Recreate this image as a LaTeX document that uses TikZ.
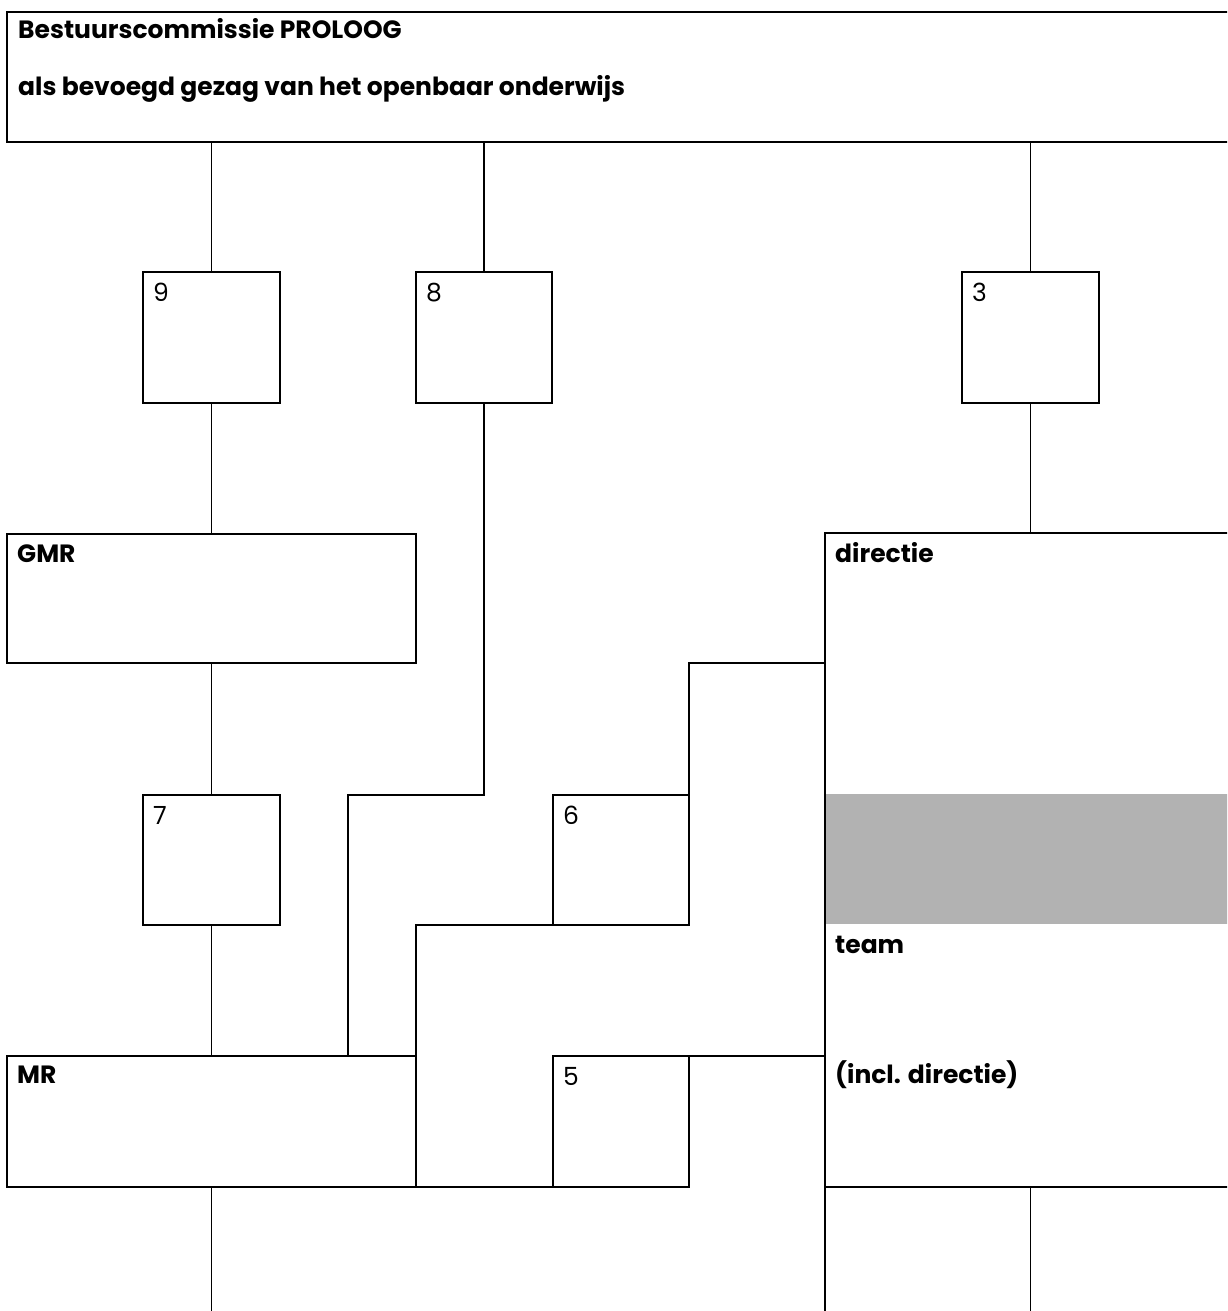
\documentclass[tikz,border=0pt]{standalone}
\usepackage{fontspec}
\setmainfont{Poppins}
\usetikzlibrary{positioning}

\tikzset{
  box/.style={draw, line width=1.7pt, inner sep=0pt, outer sep=0pt, anchor=north west},
  band/.style={fill=black!30, inner sep=0pt, outer sep=0pt, anchor=north west},
  bold/.style={anchor=base west, inner sep=0pt, font=\fontsize{25}{30}\selectfont\bfseries},
  num/.style={anchor=base west, inner sep=0pt, font=\fontsize{25}{30}\selectfont},
  link/.style={line width=1.7pt},
}

\begin{document}
\begin{tikzpicture}[x=1pt,y=-1pt]

\newcommand\sqw{137pt};
\newcommand\sqh{131pt};

\useasboundingbox (0,0) rectangle (1227,1311);
\clip (0,0) rectangle (1227,1311);

%% boxes
\node[box, minimum width=1229pt, minimum height=130pt] (pb) at (7,12) {};
\node[box, minimum width=\sqw, minimum height=\sqh] (b9) at (143,272) {};
\node[box, minimum width=136pt, minimum height=\sqh] (b8) at (416,272) {};
\node[box, minimum width=\sqw, minimum height=\sqh] (b3) at (962,272) {};
\node[box, minimum width=409pt, minimum height=129pt] (gmr) at (7,534) {};
\node[band, minimum width=411pt, minimum height=130pt] (grey) at (825,794) {};
\node[box, minimum width=411pt, minimum height=654pt] (dir) at (825,533) {};
\node[box, minimum width=\sqw, minimum height=130pt] (b7) at (143,795) {};
\node[box, minimum width=136pt, minimum height=130pt] (b6) at (553,795) {};
\node[box, minimum width=409pt, minimum height=\sqh] (mr) at (7,1056) {};
\node[box, minimum width=136pt, minimum height=\sqh] (b5) at (553,1056) {};

%% bends and loose ends
\coordinate (k8) at (348,795);
\coordinate (k6) at (689,663);
\coordinate (k5) at (b5.north east -| dir.west);
\coordinate (bot) at (0,1320);

%% lines
\draw[link] (b9.north |- pb.south) -- (b9.north);
\draw[link] (b8.north |- pb.south) -- (b8.north);
\draw[link] (b3.north |- pb.south) -- (b3.north);
\draw[link] (b9.south) -- (gmr.north);
\draw[link] (b3.south) -- (dir.north);
\draw[link] (gmr.south) -- (b7.north);
\draw[link] (b7.south) -- (mr.north);
\draw[link] (b8.south) |- (k8) -- (k8 |- mr.north);
\draw[link] (dir.west |- k6) -- (k6) -- (b6.north east);
\draw[link] (b6.south west) -| (mr.north east);
\draw[link] (mr.south east) -- (b5.south west);
\draw[link] (b5.north east) -- (k5);
\draw[link] (mr.south) -- (mr.south |- bot);
\draw[link] (dir.south west) -- (dir.south west |- bot);
\draw[link] (dir.south) -- (dir.south |- bot);

%% texts
\node[bold] (title) at ([shift={(11pt,-27pt)}]pb.north west) {Bestuurscommissie PROLOOG};
\node[bold] (sub) at ([shift={(11pt,-84pt)}]pb.north west) {als bevoegd gezag van het openbaar onderwijs};
\node[bold] (tgmr) at ([shift={(10pt,-28pt)}]gmr.north west) {GMR};
\node[bold] (tdir) at ([shift={(10pt,-29pt)}]dir.north west) {directie};
\node[bold] (tteam) at ([shift={(10pt,-29pt)}]grey.south west) {team};
\node[bold] (tincl) at ([shift={(10pt,-27pt)}]k5) {(incl. directie)};
\node[bold] (tmr) at ([shift={(10pt,-27pt)}]mr.north west) {MR};
\foreach \b/\n in {b9/9, b8/8, b3/3, b7/7, b6/6, b5/5}
  \node[num] (n\n) at ([shift={(10pt,-29pt)}]\b.north west) {\n};

\end{tikzpicture}
\end{document}
